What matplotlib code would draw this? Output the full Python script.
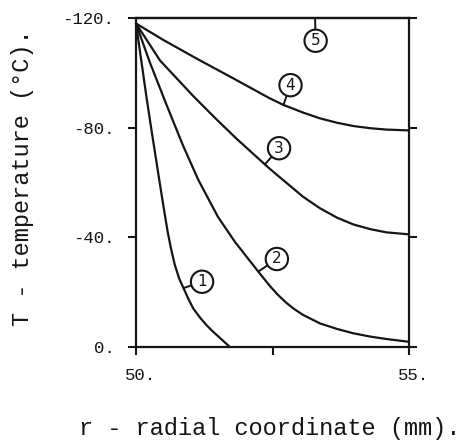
import matplotlib
matplotlib.use("Agg")
import matplotlib.pyplot as plt
from matplotlib.transforms import ScaledTranslation

# ---- data ----
r1 = [50.00, 50.10, 50.20, 50.30, 50.41, 50.47, 50.53, 50.58, 50.64, 50.71, 50.79, 50.87,
      50.96, 51.05, 51.17, 51.29, 51.40, 51.51, 51.62, 51.72]
T1 = [-118, -104, -90, -77, -63, -55.4, -48, -42, -36, -30, -25, -21.5,
      -17.5, -14, -10.8, -8, -5.8, -3.8, -1.8, 0]

r2 = [50.00, 50.25, 50.56, 50.85, 51.14, 51.50, 51.81, 52.03, 52.24, 52.45, 52.60, 52.76,
      52.90, 53.06, 53.37, 53.68, 53.98, 54.29, 54.59, 55.00]
T2 = [-118, -104, -88.3, -74, -61, -47.5, -38.4, -32.8, -27.5, -22.3, -19, -16,
      -13.8, -11.7, -8.6, -6.6, -5.0, -3.8, -2.9, -1.9]

r3 = [50.00, 50.44, 51.05, 51.45, 51.84, 52.20, 52.45, 52.70, 53.06, 53.37, 53.68, 53.98,
      54.29, 54.59, 55.00]
T3 = [-118, -104.5, -91.5, -83.5, -76, -69.5, -65, -60.8, -54.8, -50.6, -47.2, -44.7,
      -43.0, -41.8, -41.1]

r4 = [50.00, 50.50, 51.11, 51.78, 52.45, 52.70, 53.06, 53.37, 53.68, 53.98, 54.29, 54.59, 55.00]
T4 = [-118, -112, -105.2, -98, -90.7, -88.3, -85.5, -83.4, -81.8, -80.6, -79.8, -79.3, -79.0]

r5 = [50.0, 55.0]
T5 = [-120, -120]

curve_labels = ["1", "2", "3", "4", "5"]
label_attach = [(50.87, -21.5), (52.24, -27.5), (52.36, -66.6), (52.70, -88.3), (53.28, -120)]
label_center = [(51.21, -23.8), (52.58, -32.1), (52.62, -72.5), (52.83, -95.5), (53.29, -111.7)]

yticks = [-120, -80, -40, 0]
ytick_labels = ["-120.", "-80.", "-40.", "0."]
xticks = [50, 52.5, 55]
xtick_labels = ["50.", "", "55."]

xlabel = "r - radial coordinate (mm)."
ylabel = "T - temperature (\u00b0C)."

# ---- figure ----
ink = "#151515"
fig = plt.figure(figsize=(4.61, 4.41), dpi=100)
ax = fig.add_axes([136 / 461, 1 - 347 / 441, (409 - 136) / 461, (347 - 18) / 441])

for r, T in [(r1, T1), (r2, T2), (r3, T3), (r4, T4), (r5, T5)]:
    ax.plot(r, T, color=ink, lw=1.6, solid_capstyle="round", solid_joinstyle="round",
            clip_on=False)

for lab, xy, c in zip(curve_labels, label_attach, label_center):
    ax.annotate(lab, xy=xy, xytext=c, textcoords="data",
                ha="center", va="center", fontsize=11, family="DejaVu Sans", color=ink,
                bbox=dict(boxstyle="circle,pad=0.24", fc="white", ec=ink, lw=1.5),
                arrowprops=dict(arrowstyle="-", color=ink, lw=1.4, shrinkA=0, shrinkB=0))

ax.set_xlim(50, 55)
ax.set_ylim(0, -120)
ax.set_xticks(xticks)
ax.set_xticklabels(xtick_labels)
ax.set_yticks(yticks)
ax.set_yticklabels(ytick_labels)

for s in ax.spines.values():
    s.set_linewidth(1.6)
    s.set_color(ink)

ax.tick_params(axis="y", which="both", direction="out", length=6, width=1.5, color=ink,
               left=True, right=True, labelleft=True, labelright=False, pad=9.5)
ax.tick_params(axis="x", which="both", direction="out", length=6, width=1.5, color=ink,
               bottom=True, top=False, pad=9)
shift = ScaledTranslation(4 / 100, 0, fig.dpi_scale_trans)
for lbl in ax.get_xticklabels():
    lbl.set_transform(lbl.get_transform() + shift)
for lbl in ax.get_xticklabels() + ax.get_yticklabels():
    lbl.set_family("Liberation Mono")
    lbl.set_fontsize(12.5)
    lbl.set_color(ink)

fig.text(270 / 461, 1 - 428 / 441, xlabel, ha="center", va="center",
         family="Liberation Mono", fontsize=17, color=ink)
fig.text(23 / 461, 1 - 178 / 441, ylabel, ha="center", va="center", rotation=90,
         family="Liberation Mono", fontsize=17, color=ink)

fig.savefig("out.png", dpi=100, facecolor="white")
